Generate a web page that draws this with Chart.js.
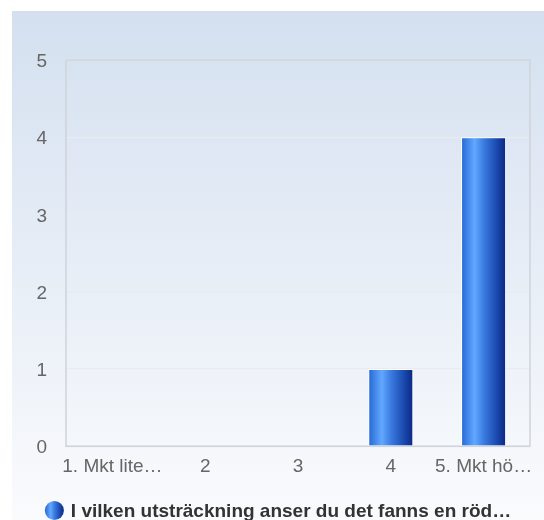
<!DOCTYPE html>
<html lang="sv">
<head>
    <meta charset="UTF-8">
    <title>bar</title>
    <script src="https://cdn.jsdelivr.net/npm/chart.js@4.4.1/dist/chart.umd.min.js"></script>
    <style>
        *{margin:0; padding:0;}
        body{background:#fff;}
        #wrap{width:544px; height:520px; position:relative;}
    </style>
</head>
<body>
    <div id="wrap">
        <canvas id="barChart"></canvas>
    </div>

    <script>
        const categories = ['1. Mkt lite…', '2', '3', '4', '5. Mkt hö…']
        const values = [0, 0, 0, 1, 4]
        const yTicks = [0, 1, 2, 3, 4, 5]
        const seriesName = 'I vilken utsträckning anser du det fanns en röd…'

        const FONT = '"Liberation Sans", Arial, sans-serif'

        function barGradient(ctx, left, right){
            const g = ctx.createLinearGradient(left, 0, right, 0)
            g.addColorStop(0, '#2466d4')
            g.addColorStop(0.3, '#62a8ff')
            g.addColorStop(0.5, '#3b7ce2')
            g.addColorStop(0.8, '#1a48ac')
            g.addColorStop(1, '#0a2682')
            return g
        }

        // background panel behind the chart
        const panel = {
            id:'panel',
            beforeDraw:function(chart){
                const ctx = chart.ctx
                const x0 = 12, y0 = 11
                const g = ctx.createLinearGradient(0, y0, 0, chart.height)
                g.addColorStop(0, '#d4e0f0')
                g.addColorStop(1, '#fafbfd')
                ctx.save()
                ctx.fillStyle = g
                ctx.fillRect(x0, y0, chart.width - x0, chart.height - y0)
                ctx.restore()
            },
            beforeDatasetsDraw:function(chart){
                const a = chart.chartArea
                const ctx = chart.ctx
                ctx.save()
                ctx.strokeStyle = '#cfd3da'
                ctx.lineWidth = 1.5
                ctx.strokeRect(a.left, a.top, a.right - a.left, a.bottom - a.top)
                ctx.restore()
            },
            afterDraw:function(chart){
                // legend
                const ctx = chart.ctx
                ctx.save()
                ctx.font = 'bold 19px ' + FONT
                const tw = ctx.measureText(seriesName).width
                const r = 9.5, gap = 7
                const total = r * 2 + gap + tw
                const cx0 = (12 + chart.width) / 2 - total / 2
                const cy = chart.height - 9.5
                ctx.beginPath()
                ctx.arc(cx0 + r, cy, r, 0, Math.PI * 2)
                ctx.fillStyle = barGradient(ctx, cx0, cx0 + r * 2)
                ctx.fill()
                ctx.fillStyle = '#333'
                ctx.textBaseline = 'middle'
                ctx.textAlign = 'left'
                ctx.fillText(seriesName, cx0 + r * 2 + gap, cy + 1)
                ctx.restore()
            }
        }

        const config = {
            type:'bar',
            data:{
                labels:categories,
                datasets:[
                    {
                        label:seriesName,
                        data:values,
                        backgroundColor:function(c){
                            const chart = c.chart
                            if(!chart.chartArea) return '#2f6fd8'
                            const xs = chart.scales.x
                            const cx = xs.getPixelForValue(c.dataIndex)
                            const w = (xs.right - xs.left) / categories.length * 0.485
                            return barGradient(chart.ctx, cx - w / 2, cx + w / 2)
                        },
                        borderColor:'#ffffff',
                        borderWidth:1,
                        barPercentage:0.485,
                        categoryPercentage:1
                    }
                ]
            },
            options:{
                responsive:true,
                maintainAspectRatio:false,
                animation:false,
                layout:{
                    padding:{left:12, right:14, top:60, bottom:33}
                },
                plugins:{
                    legend:{display:false},
                    tooltip:{enabled:false}
                },
                scales:{
                    x:{
                        grid:{display:false, drawTicks:false},
                        border:{display:false},
                        ticks:{
                            color:'#666',
                            font:{family:FONT, size:19},
                            padding:9,
                            maxRotation:0,
                            minRotation:0,
                            autoSkip:false
                        }
                    },
                    y:{
                        min:0,
                        max:5,
                        afterBuildTicks:function(scale){
                            scale.ticks = yTicks.map(function(v){ return {value:v} })
                        },
                        afterFit:function(scale){
                            scale.width = 54
                        },
                        grid:{
                            color:'#e9ebef',
                            lineWidth:1.2,
                            drawTicks:false
                        },
                        border:{display:false},
                        ticks:{
                            color:'#666',
                            font:{family:FONT, size:19},
                            padding:19,
                            labelOffset:2
                        }
                    }
                }
            },
            plugins:[panel]
        }

        const ctx = document.querySelector('#barChart').getContext('2d')
        let barChart = new Chart(ctx, config)
    </script>
</body>
</html>
